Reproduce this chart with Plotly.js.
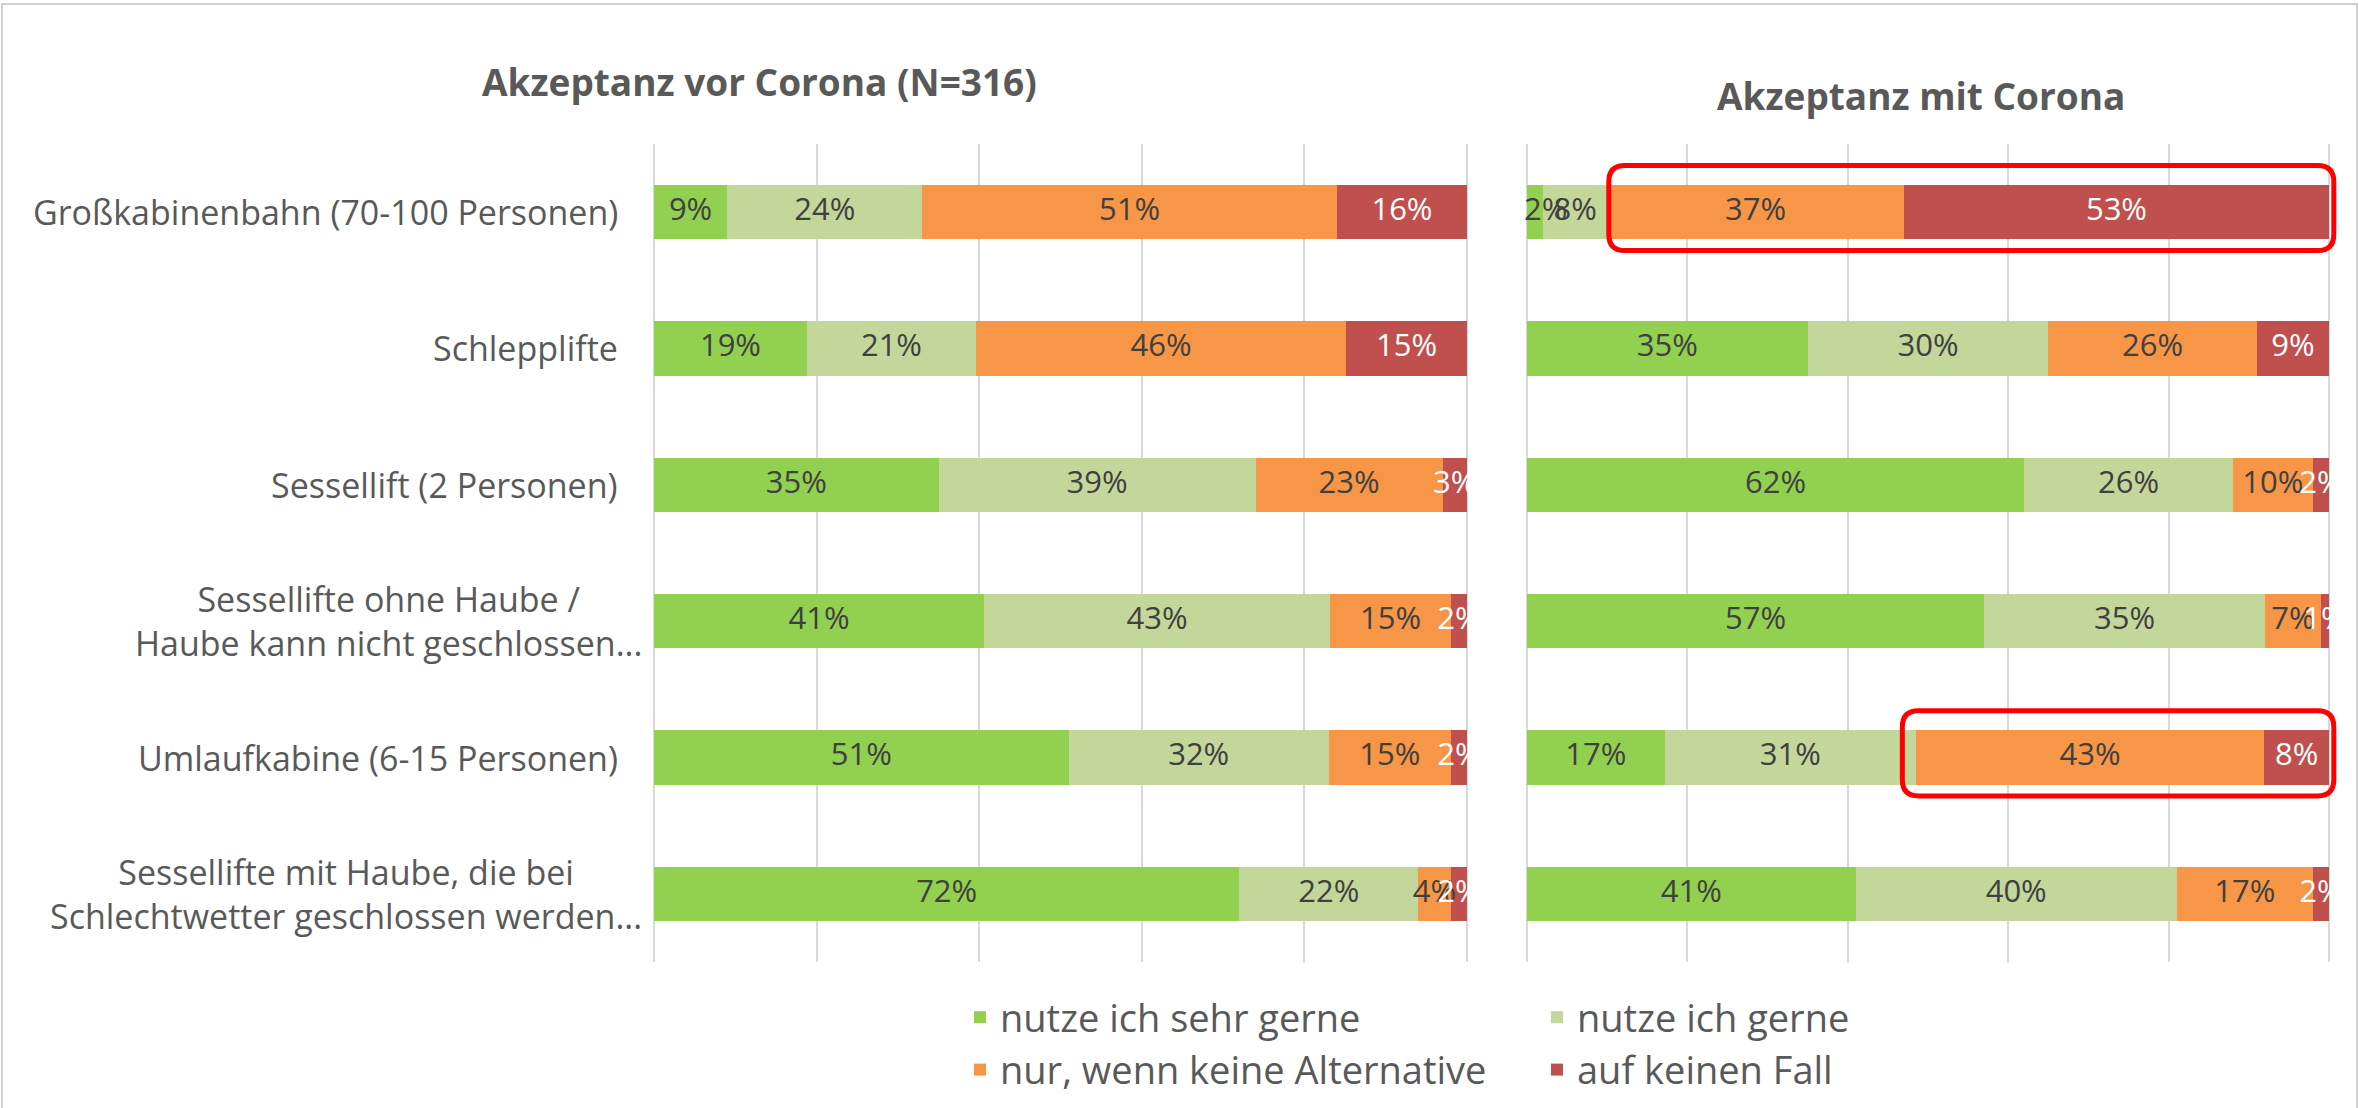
<!DOCTYPE html>
<html>
<head>
<meta charset="utf-8">
<script src="https://cdn.plot.ly/plotly-3.0.1.min.js"></script>
<style>
  html, body { margin: 0; padding: 0; background: #ffffff; }
  #chart { width: 2359px; height: 1108px; }
</style>
</head>
<body>
<div id="chart"></div>
<script>
// ---- data ----
const categories = [
  "Großkabinenbahn (70-100 Personen)",
  "Schlepplifte",
  "Sessellift (2 Personen)",
  "Sessellifte ohne Haube /<br>Haube kann nicht geschlossen...",
  "Umlaufkabine (6-15 Personen)",
  "Sessellifte mit Haube, die bei<br>Schlechtwetter geschlossen werden..."
];
const seriesNames = [
  "nutze ich sehr gerne",
  "nutze ich gerne",
  "nur, wenn keine Alternative",
  "auf keinen Fall"
];
const titleBefore = "Akzeptanz vor Corona (N=316)";
const titleWith = "Akzeptanz mit Corona";

// values per series (same order as categories)
const vorSehrGerne   = [9, 19, 35, 41, 51, 72];
const vorGerne       = [24, 21, 39, 43, 32, 22];
const vorNurWenn     = [51, 46, 23, 15, 15, 4];
const vorKeinenFall  = [16, 15, 3, 2, 2, 2];

const mitSehrGerne   = [2, 35, 62, 57, 17, 41];
const mitGerne       = [8, 30, 26, 35, 31, 40];
const mitNurWenn     = [37, 26, 10, 7, 43, 17];
const mitKeinenFall  = [53, 9, 2, 1, 8, 2];

// highlighted ranges on the "mit Corona" panel: category index, x-from, x-to (percent)
const highlightCat  = [0, 4];
const highlightFrom = [10.2, 46.8];
const highlightTo   = [100.6, 100.6];

// ---- styles ----
const colors = ["#92D050", "#C4D79B", "#F79646", "#C0504D"];
const labelColors = ["#404040", "#404040", "#404040", "#FFFFFF"];
const FONT = "Open Sans, Roboto, sans-serif";
const LABEL_SIZE = 31;
const W = 2359, H = 1108;
const px2x = p => p / W;
const px2y = p => 1 - p / H;
// domain such that value 0 sits at px0 and 100 at px100 for a given range
function domainFor(px0, px100, rmin, rmax) {
  const s = (px100 - px0) / 100;
  return [px2x(px0 + rmin * s), px2x(px0 + rmax * s)];
}

const vor = [vorSehrGerne, vorGerne, vorNurWenn, vorKeinenFall];
const mit = [mitSehrGerne, mitGerne, mitNurWenn, mitKeinenFall];

const traces = [];
function addPanel(data, xa, ya, showLeg, pxPerUnit) {
  data.forEach((vals, i) => {
    traces.push({
      type: "bar",
      orientation: "h",
      name: seriesNames[i],
      x: vals,
      y: categories,
      xaxis: xa,
      yaxis: ya,
      width: 0.4,
      marker: { color: colors[i], line: { width: 0 } },
      hovertemplate: "%{y}: %{x}%<extra>" + seriesNames[i] + "</extra>",
      showlegend: showLeg,
      legend: (i % 2 === 0) ? "legend" : "legend2"
    });
  });
  // value labels centred in each (normalised) segment, kept inside the left edge like Excel
  const totals = categories.map((c, j) => data.reduce((s, arr) => s + arr[j], 0));
  data.forEach((vals, i) => {
    const xs = vals.map((v, j) => {
      let before = 0;
      for (let k = 0; k < i; k++) before += data[k][j];
      const centre = (before + v / 2) / totals[j] * 100;
      const halfText = (String(v).length + 1) * 0.6 * LABEL_SIZE / 2 / pxPerUnit;
      return Math.max(centre, halfText);
    });
    traces.push({
      type: "scatter",
      mode: "text",
      x: xs,
      y: categories,
      xaxis: xa,
      yaxis: ya,
      text: vals.map(v => v + "%"),
      textposition: "middle center",
      textfont: { family: FONT, size: LABEL_SIZE, color: labelColors[i] },
      hoverinfo: "skip",
      showlegend: false,
      cliponaxis: false
    });
  });
}
addPanel(vor, "x", "y", true, (1467 - 654) / 100);
addPanel(mit, "x2", "y2", false, (2329 - 1527) / 100);

const yDomain = [px2y(962), px2y(144)];
const gridStyle = {
  dtick: 20, tick0: 0, showticklabels: false,
  showgrid: true, gridcolor: "#D9D9D9", gridwidth: 2, zeroline: false,
  showline: false, ticks: "", fixedrange: true
};

const annotations = [];
categories.forEach((c, i) => {
  annotations.push({
    xref: "paper", yref: "y", x: px2x(620), y: c,
    xanchor: "right", yanchor: "middle", align: "center",
    xshift: c.indexOf("<br>") >= 0 ? 24 : 0,
    text: c, showarrow: false,
    font: { family: FONT, size: 34, color: "#595959" }
  });
});
annotations.push({
  xref: "paper", yref: "paper", x: px2x(759), y: px2y(82),
  xanchor: "center", yanchor: "middle", text: "<b>" + titleBefore + "</b>",
  showarrow: false, font: { family: FONT, size: 37, color: "#595959" }
});
annotations.push({
  xref: "paper", yref: "paper", x: px2x(1921), y: px2y(95),
  xanchor: "center", yanchor: "middle", text: "<b>" + titleWith + "</b>",
  showarrow: false, font: { family: FONT, size: 37, color: "#595959" }
});

const shapes = [];
// rounded highlight rectangles (data coordinates on the right panel)
const rx = 2.0, ry = 0.12, hh = 0.312, dy = -0.03;
highlightCat.forEach((c, k) => {
  const x0 = highlightFrom[k], x1 = highlightTo[k];
  const y0 = c + dy - hh, y1 = c + dy + hh;
  const p = `M${x0 + rx},${y0} L${x1 - rx},${y0} Q${x1},${y0} ${x1},${y0 + ry} ` +
            `L${x1},${y1 - ry} Q${x1},${y1} ${x1 - rx},${y1} ` +
            `L${x0 + rx},${y1} Q${x0},${y1} ${x0},${y1 - ry} ` +
            `L${x0},${y0 + ry} Q${x0},${y0} ${x0 + rx},${y0} Z`;
  shapes.push({ type: "path", xref: "x2", yref: "y2", path: p,
    line: { color: "#FF0000", width: 5 }, fillcolor: "rgba(0,0,0,0)", layer: "above" });
});
// chart frame (left, top, right)
shapes.push({ type: "path", xref: "paper", yref: "paper",
  path: `M${px2x(2)},0 L${px2x(2)},${px2y(4)} L${px2x(2357)},${px2y(4)} L${px2x(2357)},0`,
  line: { color: "#D0D0D0", width: 2 }, layer: "below" });

const legendBase = {
  orientation: "v", traceorder: "normal", yanchor: "top",
  font: { family: FONT, size: 38, color: "#595959" },
  bgcolor: "rgba(0,0,0,0)", itemclick: false, itemdoubleclick: false,
  tracegroupgap: 0
};

const layout = {
  width: W, height: H,
  margin: { l: 0, r: 0, t: 0, b: 0 },
  paper_bgcolor: "#FFFFFF", plot_bgcolor: "#FFFFFF",
  barmode: "stack", barnorm: "percent",
  font: { family: FONT, color: "#595959" },
  xaxis: Object.assign({ domain: domainFor(654, 1467, -0.3, 100.3), range: [-0.3, 100.3], anchor: "y" }, gridStyle),
  xaxis2: Object.assign({ domain: domainFor(1527, 2329, -0.3, 101.6), range: [-0.3, 101.6], anchor: "y2" }, gridStyle),
  yaxis: { domain: yDomain, anchor: "x", autorange: "reversed", showticklabels: false,
           showgrid: false, zeroline: false, ticks: "", fixedrange: true },
  yaxis2: { domain: yDomain, anchor: "x2", autorange: "reversed", showticklabels: false,
            showgrid: false, zeroline: false, ticks: "", fixedrange: true },
  legend: Object.assign({ x: px2x(960), y: px2y(986) }, legendBase),
  legend2: Object.assign({ x: px2x(1537), y: px2y(986) }, legendBase),
  annotations: annotations,
  shapes: shapes,
  showlegend: true
};

Plotly.newPlot("chart", traces, layout, { displayModeBar: false, responsive: false });
</script>
</body>
</html>
